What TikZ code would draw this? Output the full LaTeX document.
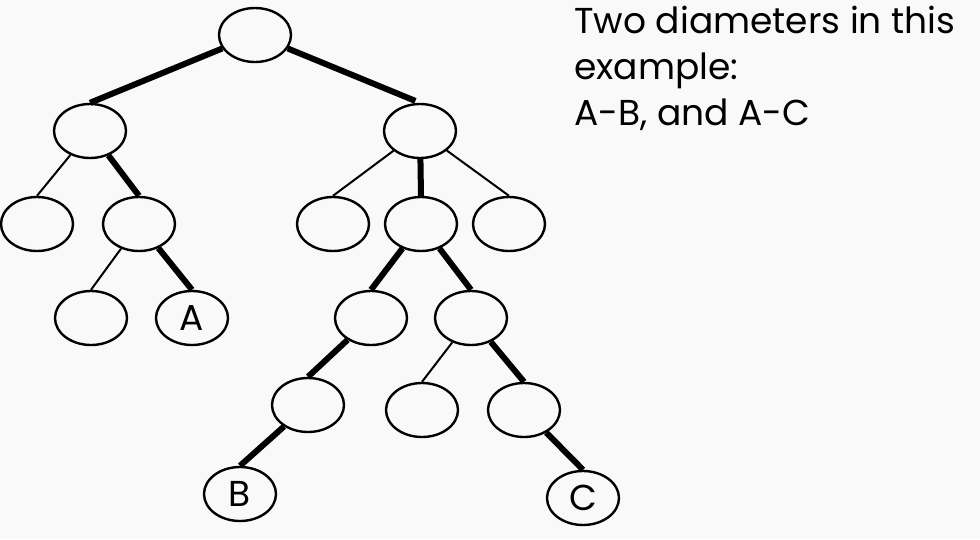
\documentclass[tikz,border=0pt]{standalone}
\usepackage{fontspec}
\setmainfont{Poppins}
\usetikzlibrary{shapes.geometric}
\definecolor{bg}{RGB}{249,249,249}
\tikzset{
  tnode/.style={draw, ellipse, line width=2.4pt, minimum width=72pt, minimum height=54pt, inner sep=0pt, font=\fontsize{36}{38}\selectfont},
  thin edge/.style={line width=2pt},
  thick edge/.style={line width=6pt},
}
\begin{document}
\begin{tikzpicture}[x=1pt,y=-1pt]
\fill[bg] (0,0) rectangle (980,539);
\useasboundingbox (0,0) rectangle (980,539);
% nodes
\node[tnode] (root) at (255,35) {};
\node[tnode] (l1l) at (90,131) {};
\node[tnode] (l1r) at (420,131) {};
\node[tnode] (ll) at (37,224) {};
\node[tnode] (lr) at (139,224) {};
\node[tnode] (rl) at (333,224) {};
\node[tnode] (rm) at (421,224) {};
\node[tnode] (rr) at (509,224) {};
\node[tnode] (lrl) at (91,318) {};
\node[tnode] (a) at (192,318) {A};
\node[tnode] (rml) at (371,318) {};
\node[tnode] (rmr) at (471,318) {};
\node[tnode] (rmll) at (308,405) {};
\node[tnode] (rmrl) at (422,410) {};
\node[tnode] (rmrr) at (524,410) {};
\node[tnode] (b) at (240,494) {B};
\node[tnode] (c) at (583,498) {C};
% edges
\draw[thick edge] (root) -- (l1l.north);
\draw[thick edge, shorten >=5pt] (root) -- (l1r.north);
\draw[thin edge] (l1l) -- (ll.north);
\draw[thick edge] (l1l) -- (lr.north);
\draw[thin edge] (l1r) -- (rl.north);
\draw[thick edge] (l1r) -- (rm.north);
\draw[thin edge] (l1r) -- (rr.north);
\draw[thin edge] (lr) -- (lrl.north);
\draw[thick edge] (lr) -- (a.north);
\draw[thick edge] (rm) -- (rml.north);
\draw[thick edge] (rm) -- (rmr.north);
\draw[thick edge] (rml) -- (rmll.north);
\draw[thin edge] (rmr) -- (rmrl.north);
\draw[thick edge] (rmr) -- (rmrr.north);
\draw[thick edge] (rmll) -- (b.north);
\draw[thick edge] (rmrr) -- (c.north);
% text
\node[anchor=north west, align=left, inner sep=0pt, font=\fontsize{36}{46}\selectfont] (txt) at (574,6) {Two diameters in this\\example:\\A-B, and A-C};
\end{tikzpicture}
\end{document}
